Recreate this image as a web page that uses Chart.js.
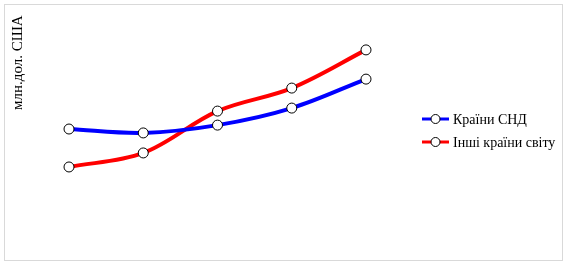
<!DOCTYPE html>
<html>
<head>
<meta charset="utf-8">
<script src="https://cdn.jsdelivr.net/npm/chart.js@4/dist/chart.umd.min.js"></script>
<style>
	html, body { margin: 0; padding: 0; background: #fff; }
	#wrap { width: 570px; height: 268px; }
</style>
</head>
<body>
<div id="wrap"><canvas id="chart"></canvas></div>
<script>
const periods = ["1", "2", "3", "4", "5"];
const seriesNames = ["Країни СНД", "Інші країни світу"];
const cisValues = [52.6, 50.9, 54.3, 61.7, 74.3];
const otherValues = [36.1, 42.2, 60.4, 70.4, 87.0];
const seriesColors = ["#0000ff", "#ff0000"];
const axisTitle = "млн.дол. США";

const frame = {
	id: "frame",
	beforeDraw(chart) {
		const { ctx } = chart;
		ctx.save();
		ctx.strokeStyle = "#d9d9d9";
		ctx.lineWidth = 1;
		ctx.strokeRect(4.5, 4.5, 558, 256);
		ctx.restore();
	},
	afterDraw(chart) {
		const { ctx } = chart;
		ctx.save();
		// y axis title, rotated and top aligned
		ctx.font = "15px 'Liberation Serif'";
		ctx.fillStyle = "#000";
		ctx.translate(21.5, 110);
		ctx.rotate(-Math.PI / 2);
		ctx.textAlign = "left";
		ctx.textBaseline = "alphabetic";
		ctx.fillText(axisTitle, 0, 0);
		ctx.restore();

		// legend: line + marker + label
		ctx.save();
		ctx.font = "14px 'Liberation Serif'";
		ctx.textBaseline = "middle";
		chart.data.datasets.forEach((ds, i) => {
			const y = 119 + i * 23;
			ctx.strokeStyle = ds.borderColor;
			ctx.lineWidth = 3;
			ctx.beginPath();
			ctx.moveTo(422, y);
			ctx.lineTo(449, y);
			ctx.stroke();
			ctx.beginPath();
			ctx.arc(435.5, y, 4.5, 0, Math.PI * 2);
			ctx.fillStyle = "#fff";
			ctx.fill();
			ctx.lineWidth = 1;
			ctx.strokeStyle = "#000";
			ctx.stroke();
			ctx.fillStyle = "#000";
			ctx.fillText(ds.label, 453, y + 1);
		});
		ctx.restore();
	},
};

const makeSet = (label, values, color) => ({
	label: label,
	data: values,
	borderColor: color,
	borderWidth: 4,
	tension: 0.35,
	pointRadius: 5,
	pointBackgroundColor: "#fff",
	pointBorderColor: "#000",
	pointBorderWidth: 1,
});

new Chart(document.getElementById("chart"), {
	type: "line",
	plugins: [frame],
	data: {
		labels: periods,
		datasets: [
			makeSet(seriesNames[0], cisValues, seriesColors[0]),
			makeSet(seriesNames[1], otherValues, seriesColors[1]),
		],
	},
	options: {
		responsive: true,
		maintainAspectRatio: false,
		animation: false,
		layout: { padding: { left: 69, right: 204, top: 20, bottom: 18 } },
		plugins: {
			legend: { display: false },
			tooltip: { enabled: false },
		},
		scales: {
			x: { display: false, offset: false },
			y: { display: false, min: 0, max: 100 },
		},
	},
});
</script>
</body>
</html>
